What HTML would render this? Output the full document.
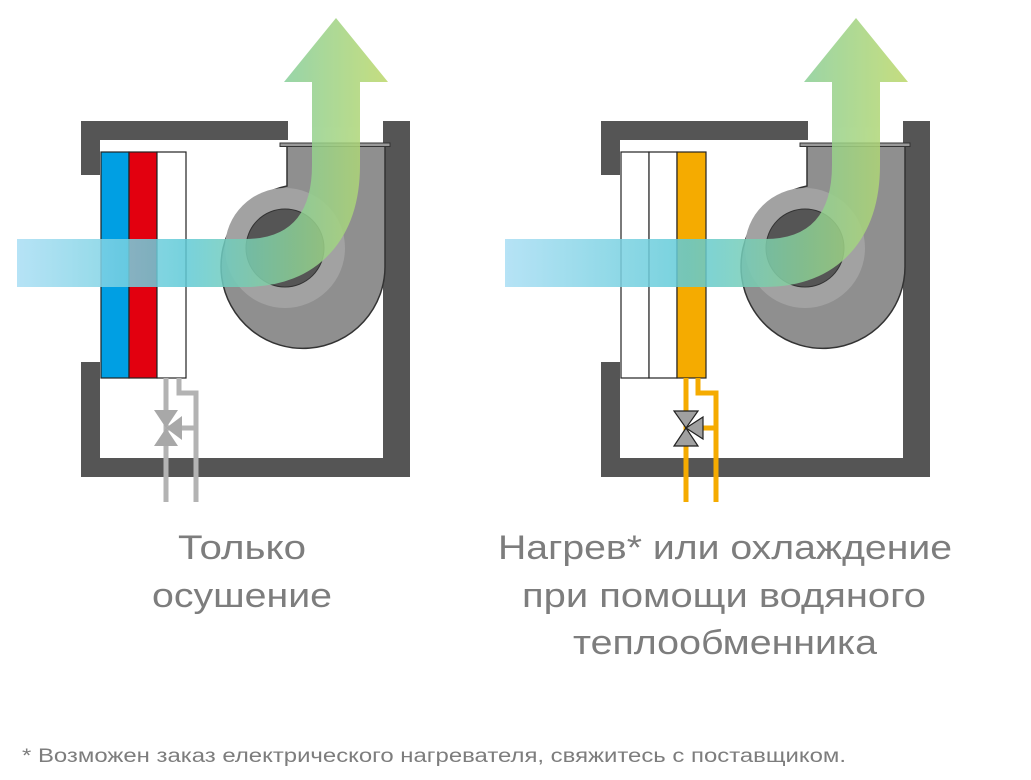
<!DOCTYPE html>
<html><head><meta charset="utf-8"><style>
body{margin:0;background:#fff;width:1031px;height:780px;overflow:hidden}
svg{display:block}
text{font-family:"Liberation Sans",sans-serif;fill:#7d7d7d}
</style></head><body>
<svg width="1031" height="780" viewBox="0 0 1031 780">
<defs>
<linearGradient id="air" x1="17" y1="0" x2="388" y2="0" gradientUnits="userSpaceOnUse">
<stop offset="0" stop-color="#a9def4"/>
<stop offset="0.45" stop-color="#5fcad7"/>
<stop offset="0.75" stop-color="#8ccf95"/>
<stop offset="1" stop-color="#bcd86a"/>
</linearGradient>
<linearGradient id="air2" x1="505" y1="0" x2="908" y2="0" gradientUnits="userSpaceOnUse">
<stop offset="0" stop-color="#a9def4"/>
<stop offset="0.45" stop-color="#5fcad7"/>
<stop offset="0.75" stop-color="#8ccf95"/>
<stop offset="1" stop-color="#bcd86a"/>
</linearGradient>
<g id="unit">
<path d="M81,121H288V140H100V175H81Z M81,362H100V458H383V140H383V121H410V477H81Z" fill="#555"/>
<path d="M287,146 L287,186 A82 82 0 1 0 385,265 L385,146 Z" fill="#8f8f8f" stroke="#333" stroke-width="1.5"/>
<circle cx="285" cy="248" r="60" fill="#a2a2a2"/>
<circle cx="285" cy="248" r="39" fill="#555" stroke="#333"/>
<rect x="280" y="143" width="110" height="3.5" fill="#999" stroke="#333" stroke-width="1"/>
</g>
</defs>

<!-- left unit -->
<use href="#unit"/>
<rect x="101" y="152" width="28" height="226" fill="#009fe3" stroke="#222" stroke-width="1.2"/>
<rect x="129" y="152" width="28" height="226" fill="#e2000f" stroke="#222" stroke-width="1.2"/>
<rect x="157" y="152" width="29" height="226" fill="#fff" stroke="#222" stroke-width="1.2"/>
<g fill="none" stroke="#b3b3b3" stroke-width="5">
<path d="M166,378V502"/><path d="M179,378V393H196V502"/><path d="M166,428H196"/>
</g>
<g fill="#a8a8a8">
<polygon points="154,410 178,410 166,428"/><polygon points="154,446 178,446 166,428"/><polygon points="166,428 182,416 182,440"/>
</g>
<g opacity="0.85">
<path d="M17,263 H245 C305,263 336,225 336,165 V80" fill="none" stroke="url(#air)" stroke-width="48"/>
<polygon points="284,82 388,82 336,18" fill="url(#air)"/>
</g>

<!-- right unit -->
<use href="#unit" x="520"/>
<rect x="621" y="152" width="28" height="226" fill="#fff" stroke="#222" stroke-width="1.2"/>
<rect x="649" y="152" width="28" height="226" fill="#fff" stroke="#222" stroke-width="1.2"/>
<rect x="677" y="152" width="29" height="226" fill="#f5ab00" stroke="#222" stroke-width="1.2"/>
<g fill="none" stroke="#f5ab00" stroke-width="5">
<path d="M686,378V502"/><path d="M698,378V393H716V502"/><path d="M700,428H716"/>
</g>
<g fill="#a0a0a0" stroke="#222" stroke-width="1.2">
<polygon points="674,411 698,411 686,428"/><polygon points="674,446 698,446 686,428"/><polygon points="686,428 703,417 703,439"/>
</g>
<g opacity="0.85">
<path d="M505,263 H765 C825,263 856,225 856,165 V80" fill="none" stroke="url(#air2)" stroke-width="48"/>
<polygon points="804,82 908,82 856,18" fill="url(#air2)"/>
</g>

<g font-size="34">
<text x="178" y="559" textLength="128" lengthAdjust="spacingAndGlyphs">Только</text>
<text x="152" y="607" textLength="180" lengthAdjust="spacingAndGlyphs">осушение</text>
<text x="498" y="559" textLength="454" lengthAdjust="spacingAndGlyphs">Нагрев* или охлаждение</text>
<text x="522" y="607" textLength="404" lengthAdjust="spacingAndGlyphs">при помощи водяного</text>
<text x="573" y="654" textLength="304" lengthAdjust="spacingAndGlyphs">теплообменника</text>
</g>
<text x="22" y="762" font-size="19" textLength="824" lengthAdjust="spacingAndGlyphs">* Возможен заказ елeктрического нагревателя, свяжитесь с поставщиком.</text>
</svg>
</body></html>
